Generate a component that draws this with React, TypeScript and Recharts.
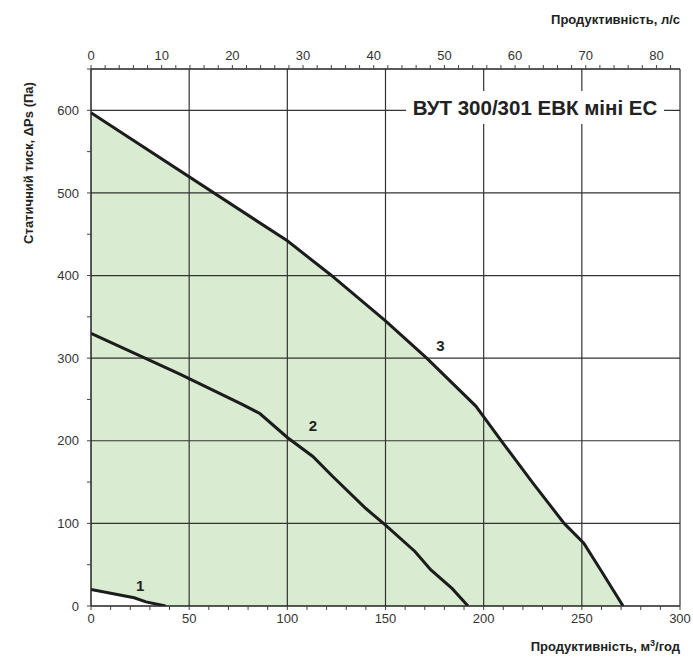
import React from 'react';
import { ComposedChart, Area, Line, XAxis, YAxis, ReferenceLine, ReferenceDot } from 'recharts';

// airflow, m3/h and static pressure, Pa
const curve1Flow = [0, 22, 28, 38];
const curve1Pressure = [20, 10, 5, 0];
const curve2Flow = [0, 45, 77, 86, 100, 113, 123, 140, 150, 165, 173, 184, 192];
const curve2Pressure = [330, 281, 244, 233, 204, 181, 157, 118, 98, 66, 44, 21, 0];
const curve3Flow = [0, 100, 122, 150, 171, 196, 209, 225, 241, 251, 260, 271];
const curve3Pressure = [597, 442, 401, 345, 300, 242, 200, 149, 100, 76, 42, 0];

const flowLabels = [0, 50, 100, 150, 200, 250, 300];
const pressureLabels = [0, 100, 200, 300, 400, 500, 600];
const litreLabels = [0, 10, 20, 30, 40, 50, 60, 70, 80];
const gridX = [50, 100, 150, 200, 250, 300];
const gridY = [100, 200, 300, 400, 500, 600];

const curveNames = ['1', '2', '3'];
const curveNamePos = [
  { q: 25, p: 24 },
  { q: 113, p: 218 },
  { q: 178, p: 315 },
];

const title = 'ВУТ 300/301 ЕВК міні ЕС';

const M3H_PER_LS = 3.6;

const zip = (q: number[], p: number[]) => q.map((v, i) => ({ q: v, l: v / M3H_PER_LS, p: p[i] }));
const curve1 = zip(curve1Flow, curve1Pressure);
const curve2 = zip(curve2Flow, curve2Pressure);
const curve3 = zip(curve3Flow, curve3Pressure);

const range = (max: number, step: number) => Array.from({ length: Math.floor(max / step) + 1 }, (_, i) => i * step);
const flowTicks = range(300, 10);
const pressureTicks = range(650, 50);
const litreTicks = range(82, 2);

const font = '"Liberation Sans", Arial, sans-serif';
const tickStyle = { fontSize: 13, fill: '#333', fontFamily: font };
const axisLine = { stroke: '#222', strokeWidth: 1.5 };
const ink = '#1c1c1c';

export default function App() {
  return (
    <div style={{ position: 'absolute', left: 0, top: 0, width: 693, height: 662, background: '#fff', fontFamily: font }}>
      <ComposedChart width={693} height={662} margin={{ top: 39, right: 13, bottom: 26, left: 41 }}>
        <XAxis
          xAxisId="m3"
          dataKey="q"
          type="number"
          domain={[0, 300]}
          ticks={flowTicks}
          interval={0}
          tickFormatter={(v: number) => (flowLabels.includes(v) ? String(v) : '')}
          tickSize={4}
          tickMargin={4}
          height={30}
          tick={tickStyle}
          axisLine={axisLine}
          tickLine={{ stroke: '#444' }}
          allowDataOverflow
        />
        <XAxis
          xAxisId="ls"
          dataKey="l"
          orientation="top"
          type="number"
          domain={[0, 300 / M3H_PER_LS]}
          ticks={litreTicks}
          interval={0}
          tickFormatter={(v: number) => (litreLabels.includes(v) ? String(v) : '')}
          tickSize={4}
          tickMargin={5}
          height={30}
          tick={tickStyle}
          axisLine={axisLine}
          tickLine={{ stroke: '#444' }}
          allowDataOverflow
        />
        <YAxis
          type="number"
          domain={[0, 650]}
          ticks={pressureTicks}
          interval={0}
          tickFormatter={(v: number) => (pressureLabels.includes(v) ? String(v) : '')}
          tickSize={4}
          tickMargin={8}
          width={50}
          tick={tickStyle}
          axisLine={axisLine}
          tickLine={{ stroke: '#444' }}
          allowDataOverflow
        />
        <Area
          xAxisId="m3"
          data={curve3}
          dataKey="p"
          type="linear"
          stroke="none"
          fill="#d9ebd0"
          fillOpacity={1}
          isAnimationActive={false}
        />
        <Area
          xAxisId="m3"
          data={curve1}
          dataKey="p"
          type="linear"
          stroke="none"
          fill="#ffffff"
          fillOpacity={1}
          isAnimationActive={false}
        />
        {/* same curve on the l/s axis, invisible, so the top axis is drawn */}
        <Line xAxisId="ls" data={curve3} dataKey="p" type="linear" stroke="none" dot={false} activeDot={false} isAnimationActive={false} />
        {gridX.map((x) => (
          <ReferenceLine key={'gx' + x} xAxisId="m3" x={x} stroke="#333" strokeWidth={1.2} />
        ))}
        {gridY.map((y) => (
          <ReferenceLine key={'gy' + y} xAxisId="m3" y={y} stroke="#333" strokeWidth={1.2} />
        ))}
        <Line xAxisId="m3" data={curve3} dataKey="p" type="linear" stroke={ink} strokeWidth={3} dot={false} isAnimationActive={false} />
        <Line xAxisId="m3" data={curve2} dataKey="p" type="linear" stroke={ink} strokeWidth={3} dot={false} isAnimationActive={false} />
        <Line xAxisId="m3" data={curve1} dataKey="p" type="linear" stroke={ink} strokeWidth={3} dot={false} isAnimationActive={false} />
        {curveNames.map((name, i) => (
          <ReferenceDot
            key={name}
            xAxisId="m3"
            x={curveNamePos[i].q}
            y={curveNamePos[i].p}
            r={0}
            fill="none"
            stroke="none"
            label={{ value: name, position: 'center', fontSize: 15, fontWeight: 700, fill: '#222', fontFamily: font }}
          />
        ))}
      </ComposedChart>
      <div
        style={{
          position: 'absolute',
          left: 406,
          top: 91,
          width: 258,
          height: 33,
          background: '#fff',
          fontSize: 20.5,
          fontWeight: 700,
          color: '#222',
          textAlign: 'center',
          lineHeight: '33px',
          whiteSpace: 'nowrap',
        }}
      >
        {title}
      </div>
      <div style={{ position: 'absolute', right: 13, top: 12, fontSize: 13, fontWeight: 700, color: '#222' }}>
        Продуктивність, л/с
      </div>
      <div style={{ position: 'absolute', right: 13, top: 638, fontSize: 13, fontWeight: 700, color: '#222' }}>
        Продуктивність, м<sup style={{ fontSize: 9 }}>3</sup>/год
      </div>
      <div
        style={{
          position: 'absolute',
          left: 28,
          top: 163,
          transform: 'translate(-50%, -50%) rotate(-90deg)',
          fontSize: 13,
          fontWeight: 700,
          color: '#222',
          whiteSpace: 'nowrap',
        }}
      >
        Статичний тиск, ΔPs (Па)
      </div>
    </div>
  );
}
